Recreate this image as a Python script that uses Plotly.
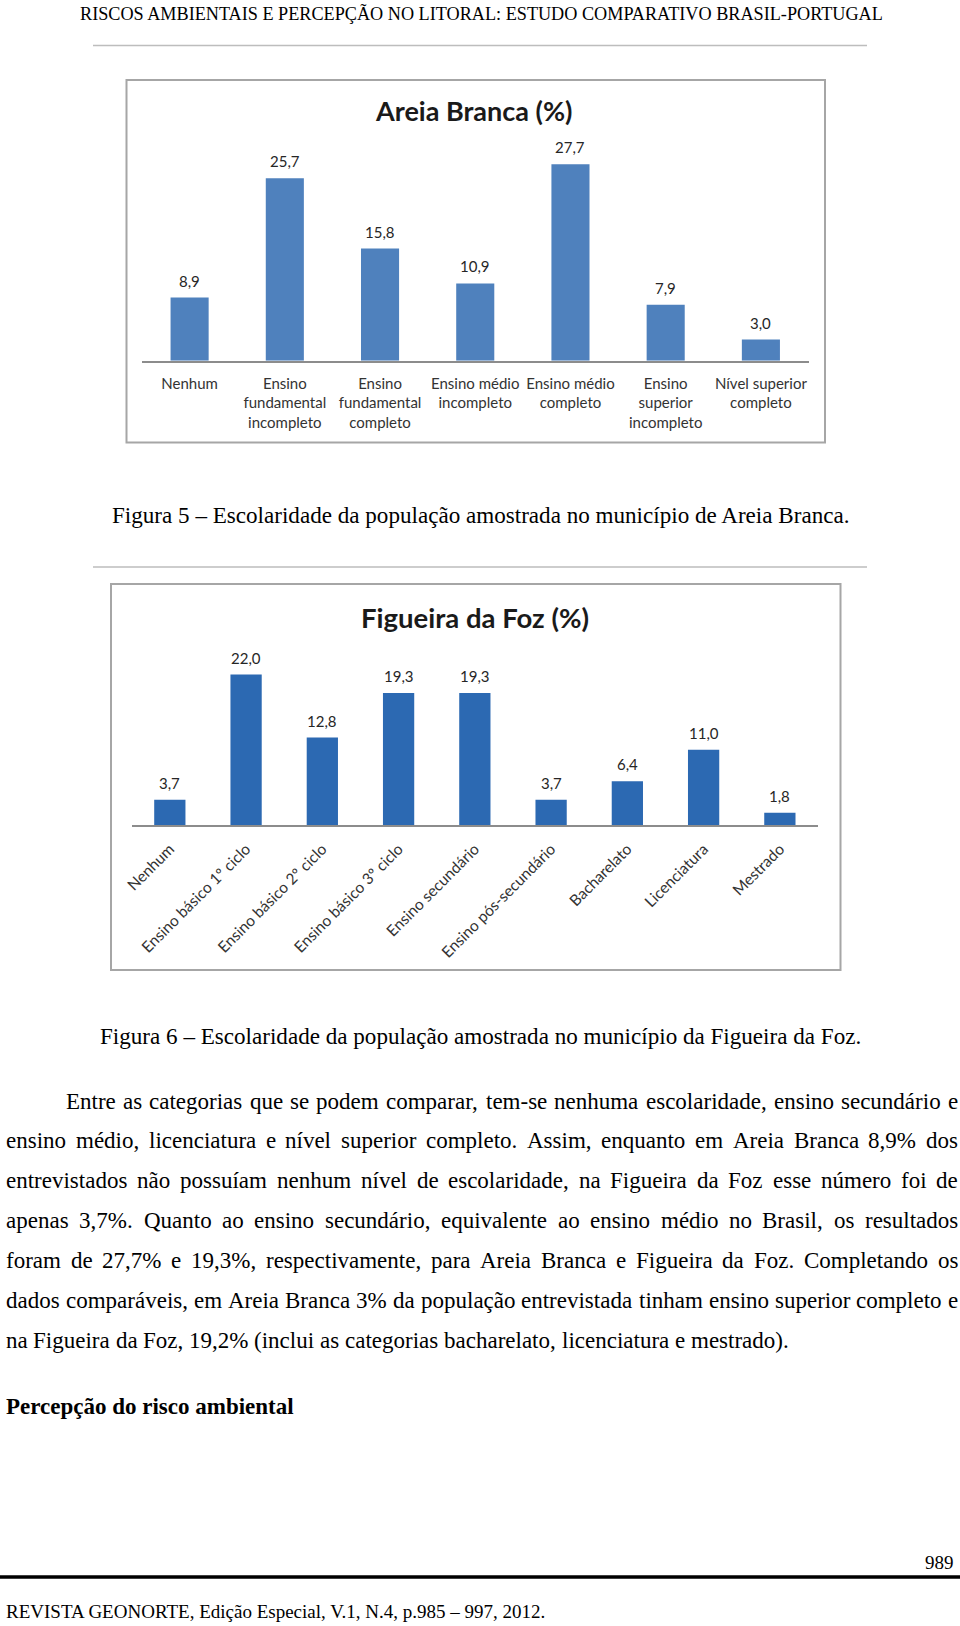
import plotly.graph_objects as go

W, H = 960, 1626

# ---------------- data ----------------
areia_categories = [
    "Nenhum",
    "Ensino<br>fundamental<br>incompleto",
    "Ensino<br>fundamental<br>completo",
    "Ensino médio<br>incompleto",
    "Ensino médio<br>completo",
    "Ensino<br>superior<br>incompleto",
    "Nível superior<br>completo",
]
areia_values = [8.9, 25.7, 15.8, 10.9, 27.7, 7.9, 3.0]

figueira_categories = [
    "Nenhum",
    "Ensino básico 1º ciclo",
    "Ensino básico 2º ciclo",
    "Ensino básico 3º ciclo",
    "Ensino secundário",
    "Ensino pós-secundário",
    "Bacharelato",
    "Licenciatura",
    "Mestrado",
]
figueira_values = [3.7, 22.0, 12.8, 19.3, 19.3, 3.7, 6.4, 11.0, 1.8]

header_text = "RISCOS AMBIENTAIS E PERCEPÇÃO NO LITORAL: ESTUDO COMPARATIVO BRASIL-PORTUGAL"
caption_5 = "Figura 5 – Escolaridade da população amostrada no município de Areia Branca."
caption_6 = "Figura 6 – Escolaridade da população amostrada no município da Figueira da Foz."
paragraph_lines = [
    "Entre as categorias que se podem comparar, tem-se nenhuma escolaridade, ensino secundário e",
    "ensino médio, licenciatura e nível superior completo. Assim, enquanto em Areia Branca 8,9% dos",
    "entrevistados não possuíam nenhum nível de escolaridade, na Figueira da Foz esse número foi de",
    "apenas 3,7%. Quanto ao ensino secundário, equivalente ao ensino médio no Brasil, os resultados",
    "foram de 27,7% e 19,3%, respectivamente, para Areia Branca e Figueira da Foz. Completando os",
    "dados comparáveis, em Areia Branca 3% da população entrevistada tinham ensino superior completo e",
    "na Figueira da Foz, 19,2% (inclui as categorias bacharelato, licenciatura e mestrado).",
]
heading_text = "Percepção do risco ambiental"
page_number = "989"
footer_text = "REVISTA GEONORTE, Edição Especial, V.1, N.4, p.985 – 997, 2012."

# ---------------- helpers ----------------
SERIF = "Liberation Serif"
SANS = "Lato"

TIMES_W = {" ": 250, "%": 833, "(": 333, ")": 333, ",": 250, "-": 333, ".": 250, ":": 278,
           "–": 500, "º": 310}
for d in "0123456789":
    TIMES_W[d] = 500
TIMES_W.update(dict(zip("ABCDEFGHIJKLMNOPQRSTUVWXYZ",
                        [722, 667, 667, 722, 611, 556, 722, 722, 333, 389, 722, 611, 889, 722, 722,
                         556, 722, 667, 556, 611, 722, 722, 944, 722, 722, 611])))
TIMES_W.update(dict(zip("abcdefghijklmnopqrstuvwxyz",
                        [444, 500, 444, 500, 444, 333, 500, 500, 278, 278, 500, 278, 778, 500, 500,
                         500, 500, 333, 389, 278, 500, 500, 722, 500, 500, 444])))
ACCENT = {"á": "a", "à": "a", "ã": "a", "â": "a", "é": "e", "ê": "e", "í": "i", "ó": "o",
          "ô": "o", "õ": "o", "ú": "u", "ç": "c", "Ç": "C", "Ã": "A", "É": "E"}


def text_width(s, size):
    total = 0
    for ch in s:
        ch = ACCENT.get(ch, ch)
        total += TIMES_W.get(ch, 500)
    return total / 1000.0 * size


def px(x):
    return x / W


def py(y):
    return 1 - y / H


annotations = []
shapes = []


def add_text(text, x, y, size, xanchor="center", family=SERIF, color="black"):
    annotations.append(dict(text=text, x=px(x), y=py(y), xref="paper", yref="paper",
                            xanchor=xanchor, yanchor="middle", showarrow=False,
                            font=dict(family=family, size=size, color=color)))


BODY = 23


def add_line(line, y, x0, x1, justify=True):
    words = line.split(" ")
    widths = [text_width(w, BODY) for w in words]
    if justify and len(words) > 1:
        gap = (x1 - x0 - sum(widths)) / (len(words) - 1)
    else:
        gap = text_width(" ", BODY)
    x = x0
    for w, wd in zip(words, widths):
        add_text(w, x, y, BODY, xanchor="left")
        x += wd + gap


def hline(x0, x1, y, color, width):
    shapes.append(dict(type="line", xref="paper", yref="paper", x0=px(x0), x1=px(x1),
                       y0=py(y), y1=py(y), line=dict(color=color, width=width)))


def rect(x0, y0, x1, y1, color, width):
    shapes.append(dict(type="rect", xref="paper", yref="paper", x0=px(x0), x1=px(x1),
                       y0=py(y0), y1=py(y1), line=dict(color=color, width=width),
                       fillcolor="rgba(0,0,0,0)"))


# ---------------- figure ----------------
fig = go.Figure()

fig.add_trace(go.Bar(x=areia_categories, y=areia_values, marker=dict(color="#4F81BD", line=dict(width=0)),
                     width=0.4, xaxis="x", yaxis="y", hoverinfo="skip"))
fig.add_trace(go.Bar(x=figueira_categories, y=figueira_values,
                     marker=dict(color="#2C69B2", line=dict(width=0)),
                     width=0.41, xaxis="x2", yaxis="y2", hoverinfo="skip"))

# value labels
for c, v in zip(areia_categories, areia_values):
    annotations.append(dict(text=f"{v:.1f}".replace(".", ","), x=c, y=v, xref="x", yref="y",
                            xanchor="center", yanchor="bottom", yshift=6, showarrow=False,
                            font=dict(family=SANS, size=15, color="#262626")))
for c, v in zip(figueira_categories, figueira_values):
    annotations.append(dict(text=f"{v:.1f}".replace(".", ","), x=c, y=v, xref="x2", yref="y2",
                            xanchor="center", yanchor="bottom", yshift=6, showarrow=False,
                            font=dict(family=SANS, size=15, color="#262626")))

# chart titles
add_text("<b>Areia Branca (%)</b>", 474, 111, 27, family=SANS, color="#1a1a1a")
add_text("<b>Figueira da Foz (%)</b>", 475, 617, 27.5, family=SANS, color="#1a1a1a")

# chart frames
rect(126.5, 80, 825, 442.5, "#A6A6A6", 2)
rect(111, 584, 840.5, 970, "#A6A6A6", 2)

# page header and separators
add_text(header_text, 481, 14, 18.2)
hline(93, 867, 45.5, "#BDBDBD", 1.5)
add_text(caption_5, 480.5, 515, 23.1)
hline(93, 867, 567, "#BDBDBD", 1.5)
add_text(caption_6, 480, 1036, 23.1)

# paragraph
line_y0, line_step = 1101, 39.9
for i, line in enumerate(paragraph_lines):
    x0 = 64 if i == 0 else 4
    add_line(line, line_y0 + i * line_step, x0, 956, justify=(i < len(paragraph_lines) - 1))

add_text("<b>" + heading_text + "</b>", 4, 1406, BODY, xanchor="left")

# footer
add_text(page_number, 956, 1562, 19, xanchor="right")
hline(0, 960, 1577, "black", 3.5)
add_text(footer_text, 4, 1611, 19, xanchor="left")

axis_common = dict(showgrid=False, zeroline=False, ticks="", showline=True,
                   linecolor="#8C8C8C", linewidth=1.5, fixedrange=True, automargin=False)

fig.update_layout(
    width=W, height=H,
    margin=dict(l=0, r=0, t=0, b=0, pad=0, autoexpand=False),
    paper_bgcolor="white", plot_bgcolor="rgba(0,0,0,0)",
    showlegend=False,
    xaxis=dict(domain=[px(142), px(808.5)], anchor="y", type="category",
               range=[-0.5, len(areia_categories) - 0.5],
               tickfont=dict(family=SANS, size=15, color="#333333"),
               ticklabelstandoff=8, **axis_common),
    yaxis=dict(domain=[py(360.8), py(147.8)], anchor="x", range=[0, 30], visible=False,
               fixedrange=True, automargin=False),
    xaxis2=dict(domain=[px(131.7), px(818)], anchor="y2", type="category",
                range=[-0.5, len(figueira_categories) - 0.5], tickangle=-45,
                tickfont=dict(family=SANS, size=15.5, color="#333333"),
                ticklabelstandoff=7, **axis_common),
    yaxis2=dict(domain=[py(825.2), py(654)], anchor="x2", range=[0, 25], visible=False,
                fixedrange=True, automargin=False),
    annotations=annotations,
    shapes=shapes,
)

fig.write_html("out.html")
